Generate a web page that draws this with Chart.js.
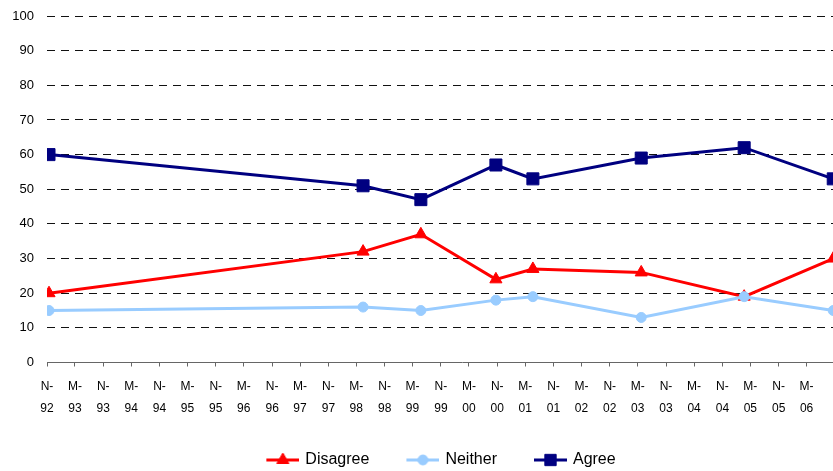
<!DOCTYPE html>
<html>
<head>
<meta charset="utf-8">
<title>Agree / Neither / Disagree</title>
<script src="https://cdn.jsdelivr.net/npm/chart.js@4"></script>
<style>
  html, body { margin: 0; padding: 0; overflow: hidden; background: #ffffff; }
  #wrap { width: 877px; height: 478px; }
</style>
</head>
<body>
<div id="wrap"><canvas id="chart" width="877" height="478"></canvas></div>
<script>
// Survey dates and the share of answers (%) in each category
const surveyDates = ['1992-11-14', '1998-06-14', '1999-06-24', '2000-10-23', '2001-06-20', '2003-05-24', '2005-03-22', '2006-10-21'];
const disagreeValues = [20, 32, 37, 24, 27, 26, 19, 30];
const neitherValues = [15, 16, 15, 18, 19, 13, 19, 15];
const agreeValues = [60, 51, 47, 57, 53, 59, 62, 53];

// Half-yearly axis labels: N = November, M = May
const tickLabels = ['N-92', 'M-93', 'N-93', 'M-94', 'N-94', 'M-95', 'N-95', 'M-96', 'N-96', 'M-97', 'N-97',
  'M-98', 'N-98', 'M-99', 'N-99', 'M-00', 'N-00', 'M-01', 'N-01', 'M-02', 'N-02', 'M-03', 'N-03',
  'M-04', 'N-04', 'M-05', 'N-05', 'M-06'];
const axisStart = '1992-11-01';
const axisEnd = '2007-08-01';

const yTicks = { min: 0, max: 100, step: 10 };

function toUTC(iso) {
  const [y, m, d] = iso.split('-').map(Number);
  return Date.UTC(y, m - 1, d);
}
// Days elapsed since the start of the axis
function dayNumber(iso) {
  return (toUTC(iso) - toUTC(axisStart)) / 86400000;
}
function labelToIso(label) {
  const [mon, yy] = label.split('-');
  const year = Number(yy) < 50 ? 2000 + Number(yy) : 1900 + Number(yy);
  const month = mon === 'N' ? '11' : '05';
  return year + '-' + month + '-01';
}
const tickDays = tickLabels.map(l => dayNumber(labelToIso(l)));

function series(values) {
  return surveyDates.map((d, i) => ({ x: dayNumber(d), y: values[i] }));
}

Chart.defaults.font.family = "'Liberation Sans', Arial, sans-serif";
Chart.defaults.color = '#000000';

// Legend glyph: a short line with the series marker in its middle
function legendGlyph(color, style, radius) {
  const c = document.createElement('canvas');
  c.width = 40; c.height = 18;
  const g = c.getContext('2d');
  g.strokeStyle = color;
  g.lineWidth = 3;
  g.beginPath(); g.moveTo(7, 9); g.lineTo(40, 9); g.stroke();
  g.fillStyle = color;
  g.lineWidth = 1;
  if (Chart.helpers && Chart.helpers.drawPoint) {
    Chart.helpers.drawPoint(g, { pointStyle: style, radius: radius, borderWidth: 1, rotation: 0 }, 23.5, 9);
  }
  return c;
}

const datasets = [
  {
    label: 'Disagree', data: series(disagreeValues),
    borderColor: '#FF0000', backgroundColor: '#FF0000',
    pointStyle: 'triangle', pointRadius: 7, pointHoverRadius: 7, order: 2
  },
  {
    label: 'Neither', data: series(neitherValues),
    borderColor: '#99CCFF', backgroundColor: '#99CCFF',
    pointStyle: 'circle', pointRadius: 5, pointHoverRadius: 5, order: 1
  },
  {
    label: 'Agree', data: series(agreeValues),
    borderColor: '#000080', backgroundColor: '#000080',
    pointStyle: 'rect', pointRadius: 8.5, pointHoverRadius: 8.5, order: 0
  }
];
datasets.forEach(ds => {
  ds.borderWidth = 3;
  ds.pointBorderWidth = 1;
  ds.pointBorderColor = ds.borderColor;
  ds.pointBackgroundColor = ds.backgroundColor;
  ds.tension = 0;
  ds.fill = false;
});
const glyphs = datasets.map(ds => legendGlyph(ds.borderColor, ds.pointStyle, ds.pointStyle === 'rect' ? 8 : ds.pointRadius));

new Chart(document.getElementById('chart'), {
  type: 'line',
  data: { datasets: datasets },
  options: {
    responsive: false,
    animation: false,
    devicePixelRatio: 1,
    layout: { autoPadding: false, padding: { top: 16, left: 0, right: 0, bottom: 0 } },
    plugins: {
      tooltip: { enabled: false },
      legend: {
        position: 'bottom',
        labels: {
          usePointStyle: true,
          pointStyleWidth: 36,
          padding: 32,
          color: '#000000',
          font: { size: 16 },
          sort: (a, b) => a.datasetIndex - b.datasetIndex,
          generateLabels: (chart) => {
            const items = Chart.defaults.plugins.legend.labels.generateLabels(chart);
            items.forEach(it => { it.pointStyle = glyphs[it.datasetIndex]; it.rotation = 0; });
            return items;
          }
        }
      }
    },
    scales: {
      x: {
        type: 'linear',
        min: 0,
        max: dayNumber(axisEnd),
        afterBuildTicks: (axis) => { axis.ticks = tickDays.map(v => ({ value: v })); },
        afterFit: (axis) => {
          // tick padding only above the labels; labels never widen the plot edges
          axis.height -= axis.options.ticks.padding;
          axis.paddingLeft = 0;
          axis.paddingRight = 0;
        },
        grid: { display: true, drawOnChartArea: false, drawTicks: true, tickLength: 4, color: '#666666' },
        border: { display: true, color: '#666666', width: 1 },
        ticks: {
          autoSkip: false, maxRotation: 0, minRotation: 0, padding: 9.5,
          color: '#000000',
          font: { size: 12, lineHeight: '22px' },
          callback: (value) => {
            const i = tickDays.indexOf(value);
            if (i < 0) return '';
            const [mon, yy] = tickLabels[i].split('-');
            return [mon + '-', yy];
          }
        }
      },
      y: {
        min: yTicks.min,
        max: yTicks.max,
        afterFit: (axis) => {
          axis.width = 47;
          axis.paddingTop = 0;
          axis.paddingBottom = 0;
        },
        grid: {
          drawTicks: false,
          lineWidth: 1,
          color: (ctx) => (ctx.tick && ctx.tick.value === 0) ? 'rgba(0,0,0,0)' : '#111111'
        },
        border: { display: false, dash: [8, 6] },
        ticks: {
          stepSize: yTicks.step,
          padding: 13,
          color: '#000000',
          font: { size: 13 }
        }
      }
    }
  }
});
</script>
</body>
</html>
